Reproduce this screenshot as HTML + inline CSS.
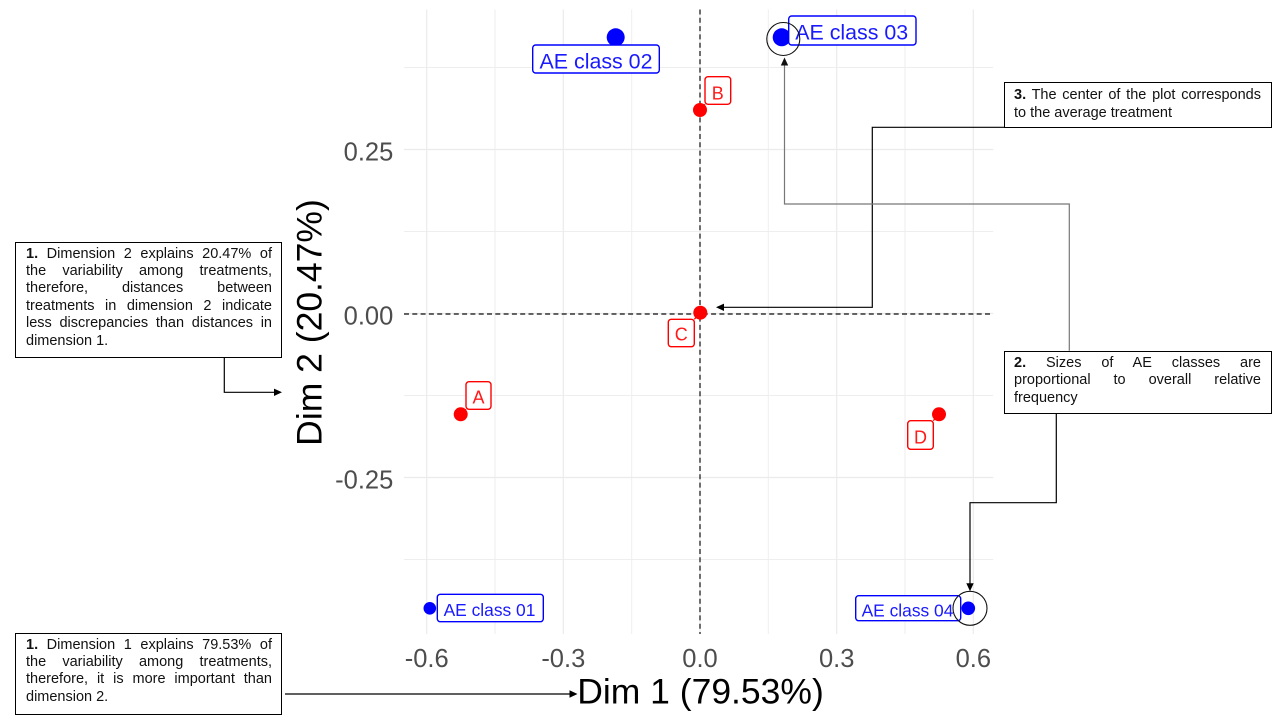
<!DOCTYPE html>
<html>
<head>
<meta charset="utf-8">
<style>
  html, body { margin: 0; padding: 0; background: #ffffff; }
  body { width: 1280px; height: 720px; position: relative; overflow: hidden;
         font-family: "Liberation Sans", Arial, sans-serif; }
  svg { position: absolute; left: 0; top: 0; }
  .box { position: absolute; box-sizing: border-box; border: 1px solid #000;
         background: #fff; font-size: 14.5px; line-height: 17.4px; color: #111; }
  .ln { display: block; text-align: justify; text-align-last: justify; height: 17.4px; }
  .ll { display: block; text-align: left; height: 17.4px; }
  b { font-weight: bold; }
</style>
</head>
<body>
<svg width="1280" height="720" viewBox="0 0 1280 720" xmlns="http://www.w3.org/2000/svg">
  <rect x="0" y="0" width="1280" height="720" fill="#ffffff"/>
  <!-- minor gridlines -->
  <g stroke="#eeeeee" stroke-width="1">
    <line x1="404" y1="67.5" x2="993.3" y2="67.5"/>
    <line x1="404" y1="231.5" x2="993.3" y2="231.5"/>
    <line x1="404" y1="395.5" x2="993.3" y2="395.5"/>
    <line x1="404" y1="559.5" x2="993.3" y2="559.5"/>
    <line x1="495" y1="9.5" x2="495" y2="634"/>
    <line x1="631.7" y1="9.5" x2="631.7" y2="634"/>
    <line x1="768.3" y1="9.5" x2="768.3" y2="634"/>
    <line x1="905" y1="9.5" x2="905" y2="634"/>
  </g>
  <!-- major gridlines -->
  <g stroke="#ebebeb" stroke-width="1.2">
    <line x1="404" y1="149.5" x2="993.3" y2="149.5"/>
    <line x1="404" y1="313.5" x2="993.3" y2="313.5"/>
    <line x1="404" y1="477.5" x2="993.3" y2="477.5"/>
    <line x1="426.7" y1="9.5" x2="426.7" y2="634"/>
    <line x1="563.3" y1="9.5" x2="563.3" y2="634"/>
    <line x1="700" y1="9.5" x2="700" y2="634"/>
    <line x1="836.7" y1="9.5" x2="836.7" y2="634"/>
    <line x1="973.3" y1="9.5" x2="973.3" y2="634"/>
  </g>
  <!-- dashed reference lines -->
  <g stroke="#333333" stroke-width="1.4" stroke-dasharray="5 3.3">
    <line x1="404" y1="314" x2="993.3" y2="314"/>
    <line x1="700" y1="9.5" x2="700" y2="634"/>
  </g>

  <!-- tick labels -->
  <g font-family="Liberation Sans, Arial, sans-serif" font-size="25.5" fill="#4d4d4d">
    <text x="393.3" y="160.7" text-anchor="end">0.25</text>
    <text x="393.3" y="324.7" text-anchor="end">0.00</text>
    <text x="393.3" y="488.5" text-anchor="end">-0.25</text>
    <text x="426.7" y="667" text-anchor="middle">-0.6</text>
    <text x="563.3" y="667" text-anchor="middle">-0.3</text>
    <text x="700" y="667" text-anchor="middle">0.0</text>
    <text x="836.7" y="667" text-anchor="middle">0.3</text>
    <text x="973.3" y="667" text-anchor="middle">0.6</text>
  </g>
  <!-- axis titles -->
  <g font-family="Liberation Sans, Arial, sans-serif" font-size="35.5" fill="#000000">
    <text x="700.5" y="703.3" text-anchor="middle">Dim 1 (79.53%)</text>
    <text x="0" y="0" text-anchor="middle" transform="translate(321.7,322.5) rotate(-90)">Dim 2 (20.47%)</text>
  </g>

  <!-- label connector segments -->
  <g stroke="#ff0000" stroke-width="1.3">
    <line x1="700" y1="110" x2="705" y2="104.3"/>
    <line x1="460.7" y1="414.3" x2="466" y2="409.3"/>
    <line x1="939" y1="414.3" x2="933.3" y2="420.7"/>
    <line x1="700.3" y1="312.7" x2="694.3" y2="319.3"/>
  </g>

  <!-- points -->
  <g fill="#0000ff">
    <circle cx="615.7" cy="37.3" r="9"/>
    <circle cx="781.7" cy="37.3" r="9"/>
    <circle cx="429.8" cy="608.3" r="6.3"/>
    <circle cx="968.3" cy="608.3" r="6.8"/>
  </g>
  <g fill="#ff0000">
    <circle cx="700" cy="110" r="7"/>
    <circle cx="700.3" cy="312.7" r="7"/>
    <circle cx="460.7" cy="414.3" r="7"/>
    <circle cx="939" cy="414.3" r="7"/>
  </g>

  <!-- label boxes -->
  <g fill="#ffffff" stroke-width="1.4">
    <rect x="532.7" y="45" width="126.6" height="28" rx="3" stroke="#0000ff"/>
    <rect x="788.7" y="16" width="127.3" height="29" rx="3" stroke="#0000ff"/>
    <rect x="437.3" y="594.3" width="106" height="27.4" rx="3" stroke="#0000ff"/>
    <rect x="855.7" y="595.7" width="105" height="25" rx="3" stroke="#0000ff"/>
    <rect x="705" y="76.7" width="25.7" height="27.6" rx="3" stroke="#ff0000"/>
    <rect x="668.3" y="319.3" width="26" height="27.4" rx="3" stroke="#ff0000"/>
    <rect x="466" y="381.7" width="25" height="27.6" rx="3" stroke="#ff0000"/>
    <rect x="907.7" y="420.7" width="25.6" height="28.6" rx="3" stroke="#ff0000"/>
  </g>
  <g font-family="Liberation Sans, Arial, sans-serif" text-anchor="middle">
    <text x="596" y="68.3" font-size="21.4" fill="#1a1aff">AE class 02</text>
    <text x="851.7" y="39.3" font-size="21.4" fill="#1a1aff">AE class 03</text>
    <text x="489.5" y="616" font-size="17.4" fill="#1a1aff">AE class 01</text>
    <text x="907.5" y="616.7" font-size="17.4" fill="#1a1aff">AE class 04</text>
    <text x="717.8" y="99.3" font-size="18" fill="#ff1a1a">B</text>
    <text x="681.3" y="340.7" font-size="18" fill="#ff1a1a">C</text>
    <text x="478.5" y="403.3" font-size="18" fill="#ff1a1a">A</text>
    <text x="920.5" y="443.3" font-size="18" fill="#ff1a1a">D</text>
  </g>

  <!-- annotation circles -->
  <g fill="none" stroke="#111111" stroke-width="1.1">
    <circle cx="783.3" cy="39" r="16.5"/>
    <circle cx="970" cy="608.3" r="17"/>
  </g>

  <!-- connectors -->
  <g fill="none" stroke-width="1.2">
    <polyline points="224.3,357.3 224.3,392.3 276,392.3" stroke="#000"/>
    <polyline points="285,694 571,694" stroke="#000"/>
    <polyline points="1004.3,127.3 872.3,127.3 872.3,307.3 722,307.3" stroke="#000"/>
    <polyline points="1069.3,350.7 1069.3,204 784.5,204 784.5,64" stroke="#777777"/>
    <polyline points="1056.3,413.3 1056.3,502.7 970,502.7 970,585" stroke="#000"/>
  </g>
  <g fill="#000">
    <polygon points="282,392.3 274,388.6 274,396"/>
    <polygon points="577.5,694 569.5,690.3 569.5,697.7"/>
    <polygon points="716,307.3 724,303.6 724,311"/>
    <polygon points="784.5,57.5 780.8,65.5 788.2,65.5" fill="#111"/>
    <polygon points="970,591.3 966.3,583.3 973.7,583.3"/>
  </g>
</svg>

<div class="box" style="left:15px; top:242px; width:267px; height:116px; padding:2.6px 9px 0 10px;">
  <span class="ln"><b>1.</b> Dimension 2 explains 20.47% of</span>
  <span class="ln">the variability among treatments,</span>
  <span class="ln">therefore, distances between</span>
  <span class="ln">treatments in dimension 2 indicate</span>
  <span class="ln">less discrepancies than distances in</span>
  <span class="ll">dimension 1.</span>
</div>

<div class="box" style="left:15px; top:633px; width:267px; height:82px; padding:2.6px 9px 0 10px;">
  <span class="ln"><b>1.</b> Dimension 1 explains 79.53% of</span>
  <span class="ln">the variability among treatments,</span>
  <span class="ln">therefore, it is more important than</span>
  <span class="ll">dimension 2.</span>
</div>

<div class="box" style="left:1004px; top:82px; width:268px; height:46px; padding:4.3px 10px 0 9px;">
  <span class="ln"><b>3.</b> The center of the plot corresponds</span>
  <span class="ll">to the average treatment</span>
</div>

<div class="box" style="left:1004px; top:351px; width:268px; height:63px; padding:2.9px 10px 0 9px;">
  <span class="ln"><b>2.</b> Sizes of AE classes are</span>
  <span class="ln">proportional to overall relative</span>
  <span class="ll">frequency</span>
</div>
</body>
</html>
